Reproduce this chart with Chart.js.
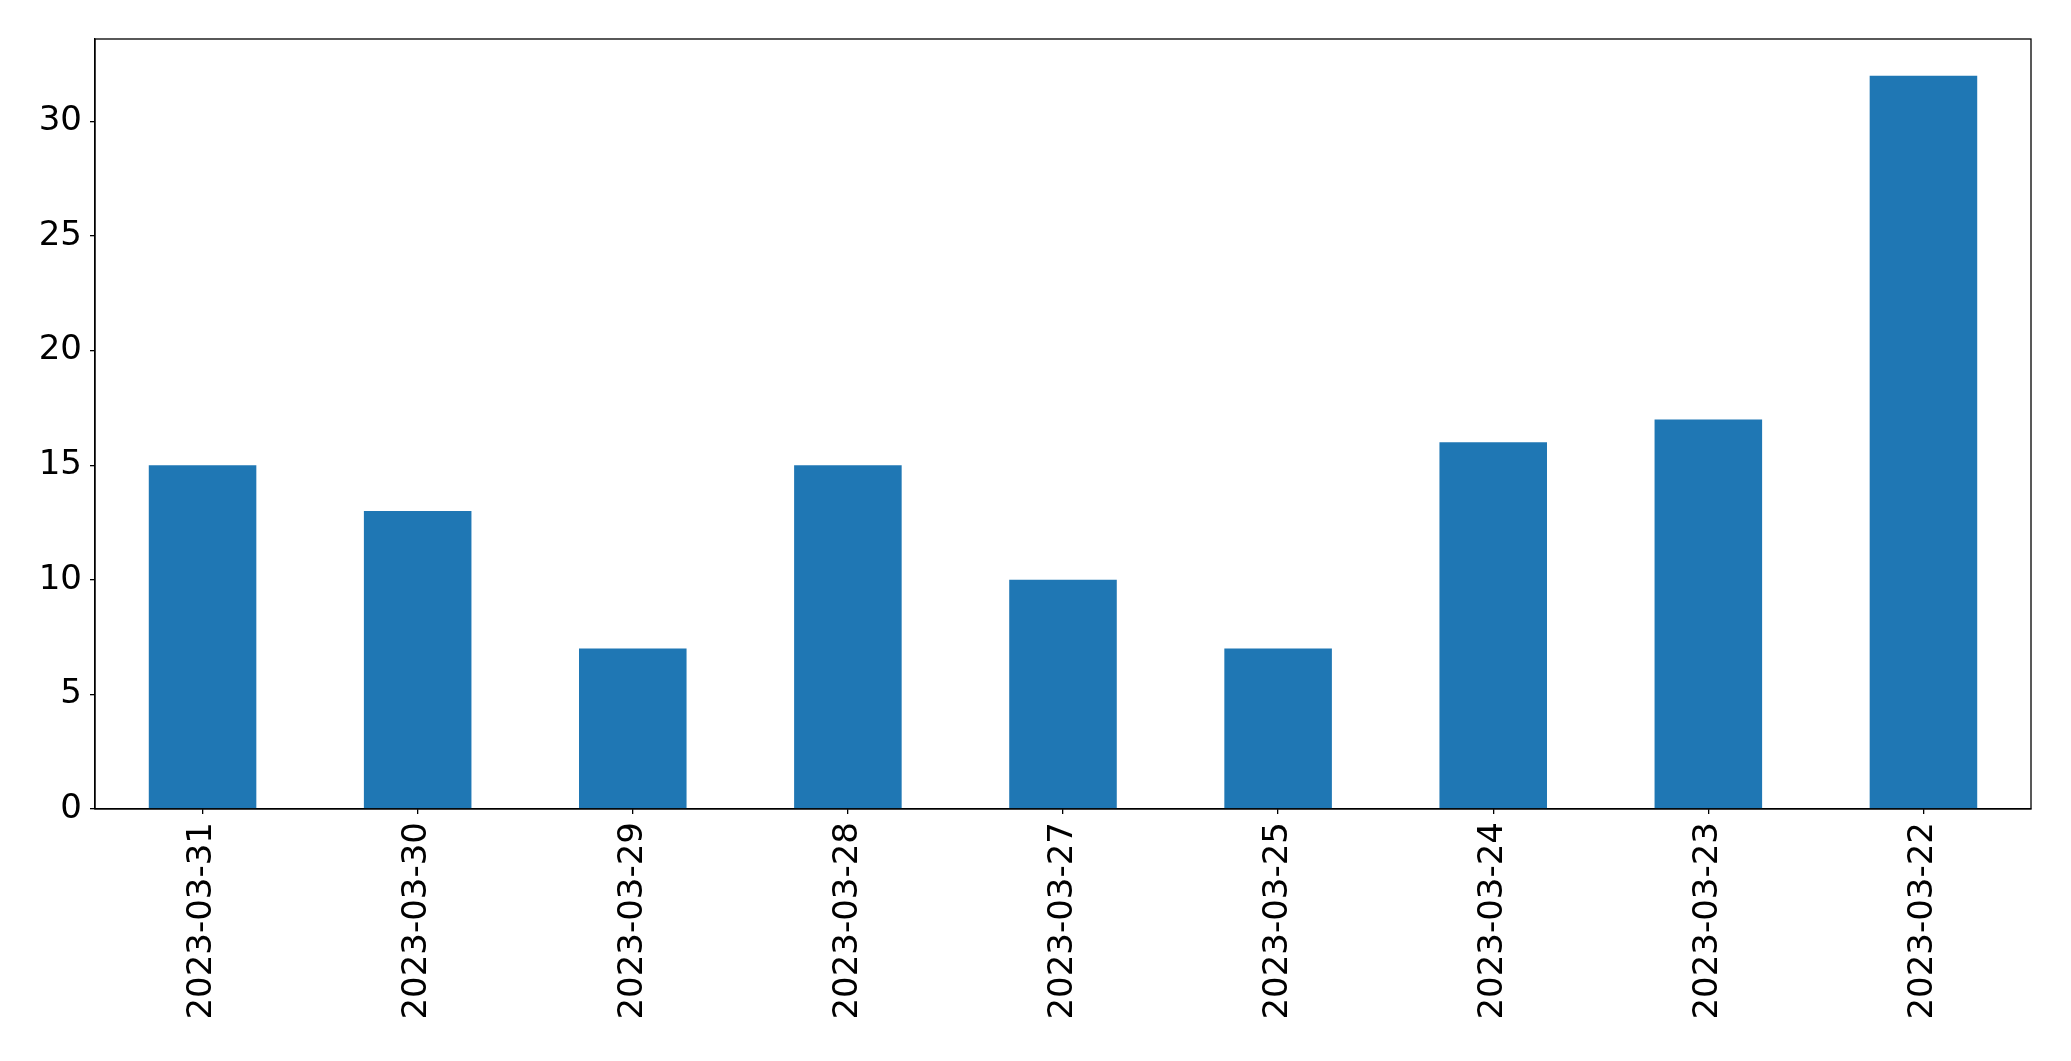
<!DOCTYPE html>
<html>
<head>
<meta charset="utf-8">
<script src="https://cdn.jsdelivr.net/npm/chart.js@4"></script>
<style>
    html, body { margin: 0; padding: 0; background: #fff; }
    #wrap { width: 2071px; height: 1061px; }
</style>
</head>
<body>
<div id="wrap"><canvas id="daily-bar"></canvas></div>
<script>
// Daily counts, newest first
const days = [
    "2023-03-31",
    "2023-03-30",
    "2023-03-29",
    "2023-03-28",
    "2023-03-27",
    "2023-03-25",
    "2023-03-24",
    "2023-03-23",
    "2023-03-22",
];
const counts = [15, 13, 7, 15, 10, 7, 16, 17, 32];
const yTicks = [0, 5, 10, 15, 20, 25, 30];

const FONT = { family: "'DejaVu Sans', sans-serif", size: 34 };

// box round the plot area, like the matplotlib frame
const frame = {
    id: "frame",
    afterDraw(chart) {
        const a = chart.chartArea;
        const ctx = chart.ctx;
        ctx.save();
        ctx.strokeStyle = "#000";
        ctx.lineWidth = 1.3;
        ctx.strokeRect(a.left, a.top, a.right - a.left, a.bottom - a.top);
        ctx.restore();
    }
};

const data = {
    labels: days,
    datasets: [{
        data: counts,
        backgroundColor: "#1f77b4",
        borderWidth: 0,
        categoryPercentage: 1,
        barPercentage: 0.5,
    }]
};

const config = {
    type: "bar",
    data,
    plugins: [frame],
    options: {
        responsive: true,
        maintainAspectRatio: false,
        animation: false,
        layout: { padding: { left: 0, top: 39, right: 40, bottom: 0 } },
        plugins: {
            legend: { display: false },
            tooltip: { enabled: false },
        },
        scales: {
            x: {
                offset: true,
                grid: { display: true, drawOnChartArea: false, drawTicks: true, tickLength: 5, tickColor: "#000", lineWidth: 1.3, offset: false },
                border: { color: "#000", width: 1.3 },
                ticks: { color: "#000", font: FONT, minRotation: 90, maxRotation: 90, padding: 8, autoSkip: false },
                afterFit(scale) { scale.height = 252; },
            },
            y: {
                min: 0,
                max: 33.6,
                grid: { display: true, drawOnChartArea: false, drawTicks: true, tickLength: 5, tickColor: "#000", lineWidth: 1.3 },
                border: { color: "#000", width: 1.3 },
                ticks: { color: "#000", font: FONT, padding: 8, stepSize: 5 },
                afterBuildTicks(scale) { scale.ticks = yTicks.map(v => ({ value: v })); },
                afterFit(scale) { scale.width = 95; },
            }
        }
    }
};

var chart = new Chart(document.getElementById("daily-bar"), config);
</script>
</body>
</html>
